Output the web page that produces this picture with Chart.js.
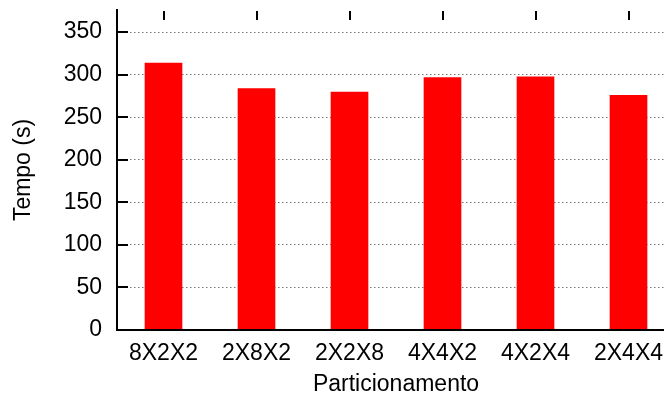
<!DOCTYPE html>
<html>
<head>
<meta charset="utf-8">
<script src="https://cdn.jsdelivr.net/npm/chart.js@4/dist/chart.umd.min.js"></script>
<style>
  html, body { margin: 0; padding: 0; background: #fff; overflow: hidden; }
  #wrap { width: 664px; height: 398px; overflow: hidden; }
</style>
</head>
<body>
<div id="wrap"><canvas id="chart" width="675" height="398"></canvas></div>
<script>
const categories = ['8X2X2', '2X8X2', '2X2X8', '4X4X2', '4X2X4', '2X4X4'];
const tempos = [314, 284, 280, 297, 298, 276];
const yTicks = [0, 50, 100, 150, 200, 250, 300, 350];

const FONT = { family: '"Liberation Sans", Arial, sans-serif', size: 23 };

// short tick marks: inward on the y axis, mirrored along the top for x
const tickMarks = {
  id: 'tickMarks',
  afterDatasetsDraw(chart) {
    const { ctx, chartArea, scales } = chart;
    ctx.save();
    ctx.strokeStyle = '#000';
    ctx.lineWidth = 2;
    ctx.setLineDash([]);
    ctx.beginPath();
    yTicks.forEach((v) => {
      if (v === 0) return;
      const y = Math.round(scales.y.getPixelForValue(v));
      ctx.moveTo(chartArea.left, y);
      ctx.lineTo(chartArea.left + 11, y);
    });
    categories.forEach((c, i) => {
      const x = Math.round(scales.x.getPixelForValue(i));
      ctx.moveTo(x, chartArea.top + 1);
      ctx.lineTo(x, chartArea.top + 10);
    });
    ctx.stroke();
    ctx.restore();
  }
};

new Chart(document.getElementById('chart'), {
  type: 'bar',
  data: {
    labels: categories,
    datasets: [{
      data: tempos,
      backgroundColor: '#ff0000',
      borderWidth: 0,
      categoryPercentage: 1,
      barPercentage: 0.405
    }]
  },
  options: {
    responsive: false,
    animation: false,
    layout: { padding: { top: 10, right: 0, left: 0, bottom: 0 } },
    plugins: { legend: { display: false }, tooltip: { enabled: false } },
    scales: {
      x: {
        grid: { display: false, drawTicks: false },
        border: { display: true, color: '#000', width: 2, z: 1 },
        ticks: { color: '#000', font: FONT, padding: 10, maxRotation: 0 },
        title: { display: true, text: 'Particionamento', color: '#000', font: FONT, padding: { top: 0, bottom: 0 } },
        afterFit(scale) {
          scale.height = 68;
          scale.paddingLeft = 0;
          scale.paddingRight = 0;
        }
      },
      y: {
        min: 0,
        max: 376,
        afterBuildTicks(scale) { scale.ticks = yTicks.map((v) => ({ value: v })); },
        grid: { color: '#777', lineWidth: 1, drawTicks: false },
        border: { display: true, color: '#000', width: 2, dash: [1.5, 2.5], z: 1 },
        ticks: { color: '#000', font: FONT, padding: 15 },
        title: { display: true, text: 'Tempo (s)', color: '#000', font: FONT, padding: { top: 10, bottom: 0 } },
        afterFit(scale) {
          scale.width = 117;
          scale.paddingTop = 0;
          scale.paddingBottom = 0;
        }
      }
    }
  },
  plugins: [tickMarks]
});
</script>
</body>
</html>
